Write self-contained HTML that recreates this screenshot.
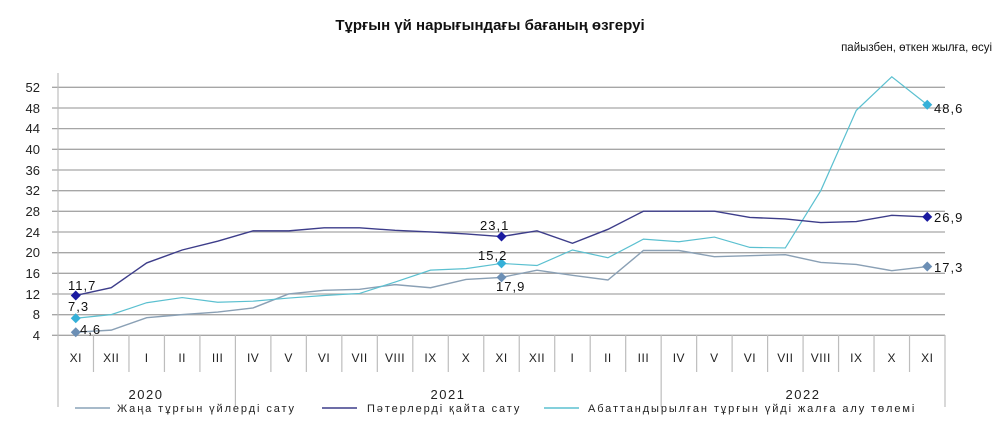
<!DOCTYPE html>
<html><head><meta charset="utf-8"><style>
body{margin:0;background:#fff;}
svg{display:block;font-family:"Liberation Sans","DejaVu Sans",sans-serif;}
</style></head><body>
<svg width="1000" height="435" viewBox="0 0 1000 435" xmlns="http://www.w3.org/2000/svg">
<text x="490" y="30" text-anchor="middle" font-size="15" font-weight="bold" fill="#111">Тұрғын үй нарығындағы бағаның өзгеруі</text>
<text x="992" y="51" text-anchor="end" font-size="11.5" fill="#111">пайызбен, өткен жылға, өсуі</text>
<g stroke="#a6a6a6" stroke-width="1.3">
<line x1="52" y1="87.3" x2="945" y2="87.3"/><line x1="52" y1="108" x2="945" y2="108"/><line x1="52" y1="128.6" x2="945" y2="128.6"/><line x1="52" y1="149.3" x2="945" y2="149.3"/><line x1="52" y1="170" x2="945" y2="170"/><line x1="52" y1="190.7" x2="945" y2="190.7"/><line x1="52" y1="211.3" x2="945" y2="211.3"/><line x1="52" y1="232" x2="945" y2="232"/><line x1="52" y1="252.7" x2="945" y2="252.7"/><line x1="52" y1="273.3" x2="945" y2="273.3"/><line x1="52" y1="294" x2="945" y2="294"/><line x1="52" y1="314.7" x2="945" y2="314.7"/><line x1="52" y1="335.3" x2="945" y2="335.3"/>
</g>
<g stroke="#bdbdbd" stroke-width="1.2" id="ticks"></g>
<g font-size="13" fill="#222" text-anchor="end">
<text x="40" y="92">52</text><text x="40" y="113">48</text><text x="40" y="133">44</text><text x="40" y="154">40</text><text x="40" y="175">36</text><text x="40" y="195">32</text><text x="40" y="216">28</text><text x="40" y="237">24</text><text x="40" y="257">20</text><text x="40" y="278">16</text><text x="40" y="299">12</text><text x="40" y="319">8</text><text x="40" y="340">4</text>
</g>
<g id="cats" font-size="12" fill="#222" text-anchor="middle" letter-spacing="0.5"></g>
<g font-size="13" fill="#222" text-anchor="middle" letter-spacing="1.5">
<text x="146" y="399">2020</text><text x="448" y="399">2021</text><text x="803" y="399">2022</text>
</g>
<g id="series"></g>
<g font-size="11" fill="#222" letter-spacing="1.9">
<line x1="75" y1="408" x2="110" y2="408" stroke="#8aa3b8" stroke-width="1.5"/>
<text x="117" y="412">Жаңа тұрғын үйлерді сату</text>
<line x1="322" y1="408" x2="357" y2="408" stroke="#3d3d8a" stroke-width="1.5"/>
<text x="367" y="412">Пәтерлерді қайта сату</text>
<line x1="544" y1="408" x2="579" y2="408" stroke="#5bc0d0" stroke-width="1.5"/>
<text x="588" y="412">Абаттандырылған  тұрғын  үйді жалға алу төлемі</text>
</g>
<g font-size="13" fill="#111" letter-spacing="1">
<text x="68" y="290">11,7</text><text x="68" y="311">7,3</text><text x="80" y="334">4,6</text>
<text x="478" y="260">15,2</text><text x="496" y="291">17,9</text><text x="480" y="230">23,1</text>
<text x="934" y="113">48,6</text><text x="934" y="222">26,9</text><text x="934" y="272">17,3</text>
</g>
<script>
var ns="http://www.w3.org/2000/svg";
function X(i){return 58+35.48*(i+0.5);}
function Y(v){return 335.3-(v-4)*5.17;}
var t=document.getElementById("ticks");
function ln(p,a){var e=document.createElementNS(ns,"line");for(var k in a)e.setAttribute(k,a[k]);p.appendChild(e);}
ln(t,{x1:58,y1:73,x2:58,y2:407});
for(var i=1;i<=25;i++){var x=58+35.48*i;var big=(i==5||i==17||i==25);ln(t,{x1:x,y1:335,x2:x,y2:big?407:372});}
var cats=["XI","XII","I","II","III","IV","V","VI","VII","VIII","IX","X","XI","XII","I","II","III","IV","V","VI","VII","VIII","IX","X","XI"];
var c=document.getElementById("cats");
cats.forEach(function(s,i){var e=document.createElementNS(ns,"text");e.setAttribute("x",X(i));e.setAttribute("y",362);e.textContent=s;c.appendChild(e);});
var S=document.getElementById("series");
function poly(d,col,w){var e=document.createElementNS(ns,"polyline");e.setAttribute("points",d.map(function(v,i){return X(i)+","+Y(v);}).join(" "));e.setAttribute("fill","none");e.setAttribute("stroke",col);e.setAttribute("stroke-width",w);S.appendChild(e);}
function dia(i,v,col){var e=document.createElementNS(ns,"path");var x=X(i),y=Y(v);e.setAttribute("d","M"+(x-5)+","+y+"L"+x+","+(y-5)+"L"+(x+5)+","+y+"L"+x+","+(y+5)+"Z");e.setAttribute("fill",col);S.appendChild(e);}
var gray=[4.6,5,7.4,8,8.5,9.3,12,12.7,12.9,13.8,13.2,14.8,15.2,16.6,15.6,14.7,20.4,20.4,19.2,19.4,19.6,18.1,17.7,16.5,17.3];
var cyan=[7.3,8,10.3,11.3,10.4,10.6,11.2,11.7,12.1,14.3,16.6,16.9,17.9,17.5,20.5,19,22.6,22.1,23,21,20.9,32,47.5,54,48.6];
var dark=[11.7,13.2,18,20.5,22.2,24.2,24.2,24.8,24.8,24.3,24,23.6,23.1,24.2,21.8,24.5,28,28,28,26.8,26.5,25.8,26,27.2,26.9];
poly(gray,"#8aa0b5",1.4);poly(cyan,"#5bc0d0",1.2);poly(dark,"#3d3d8a",1.4);
dia(0,4.6,"#6c8fb5");dia(12,15.2,"#6c8fb5");dia(24,17.3,"#6c8fb5");
dia(0,7.3,"#35b0d8");dia(12,17.9,"#35b0d8");dia(24,48.6,"#35b0d8");
dia(0,11.7,"#1a1aa0");dia(12,23.1,"#1a1aa0");dia(24,26.9,"#1a1aa0");
</script>
</svg>
</body></html>
